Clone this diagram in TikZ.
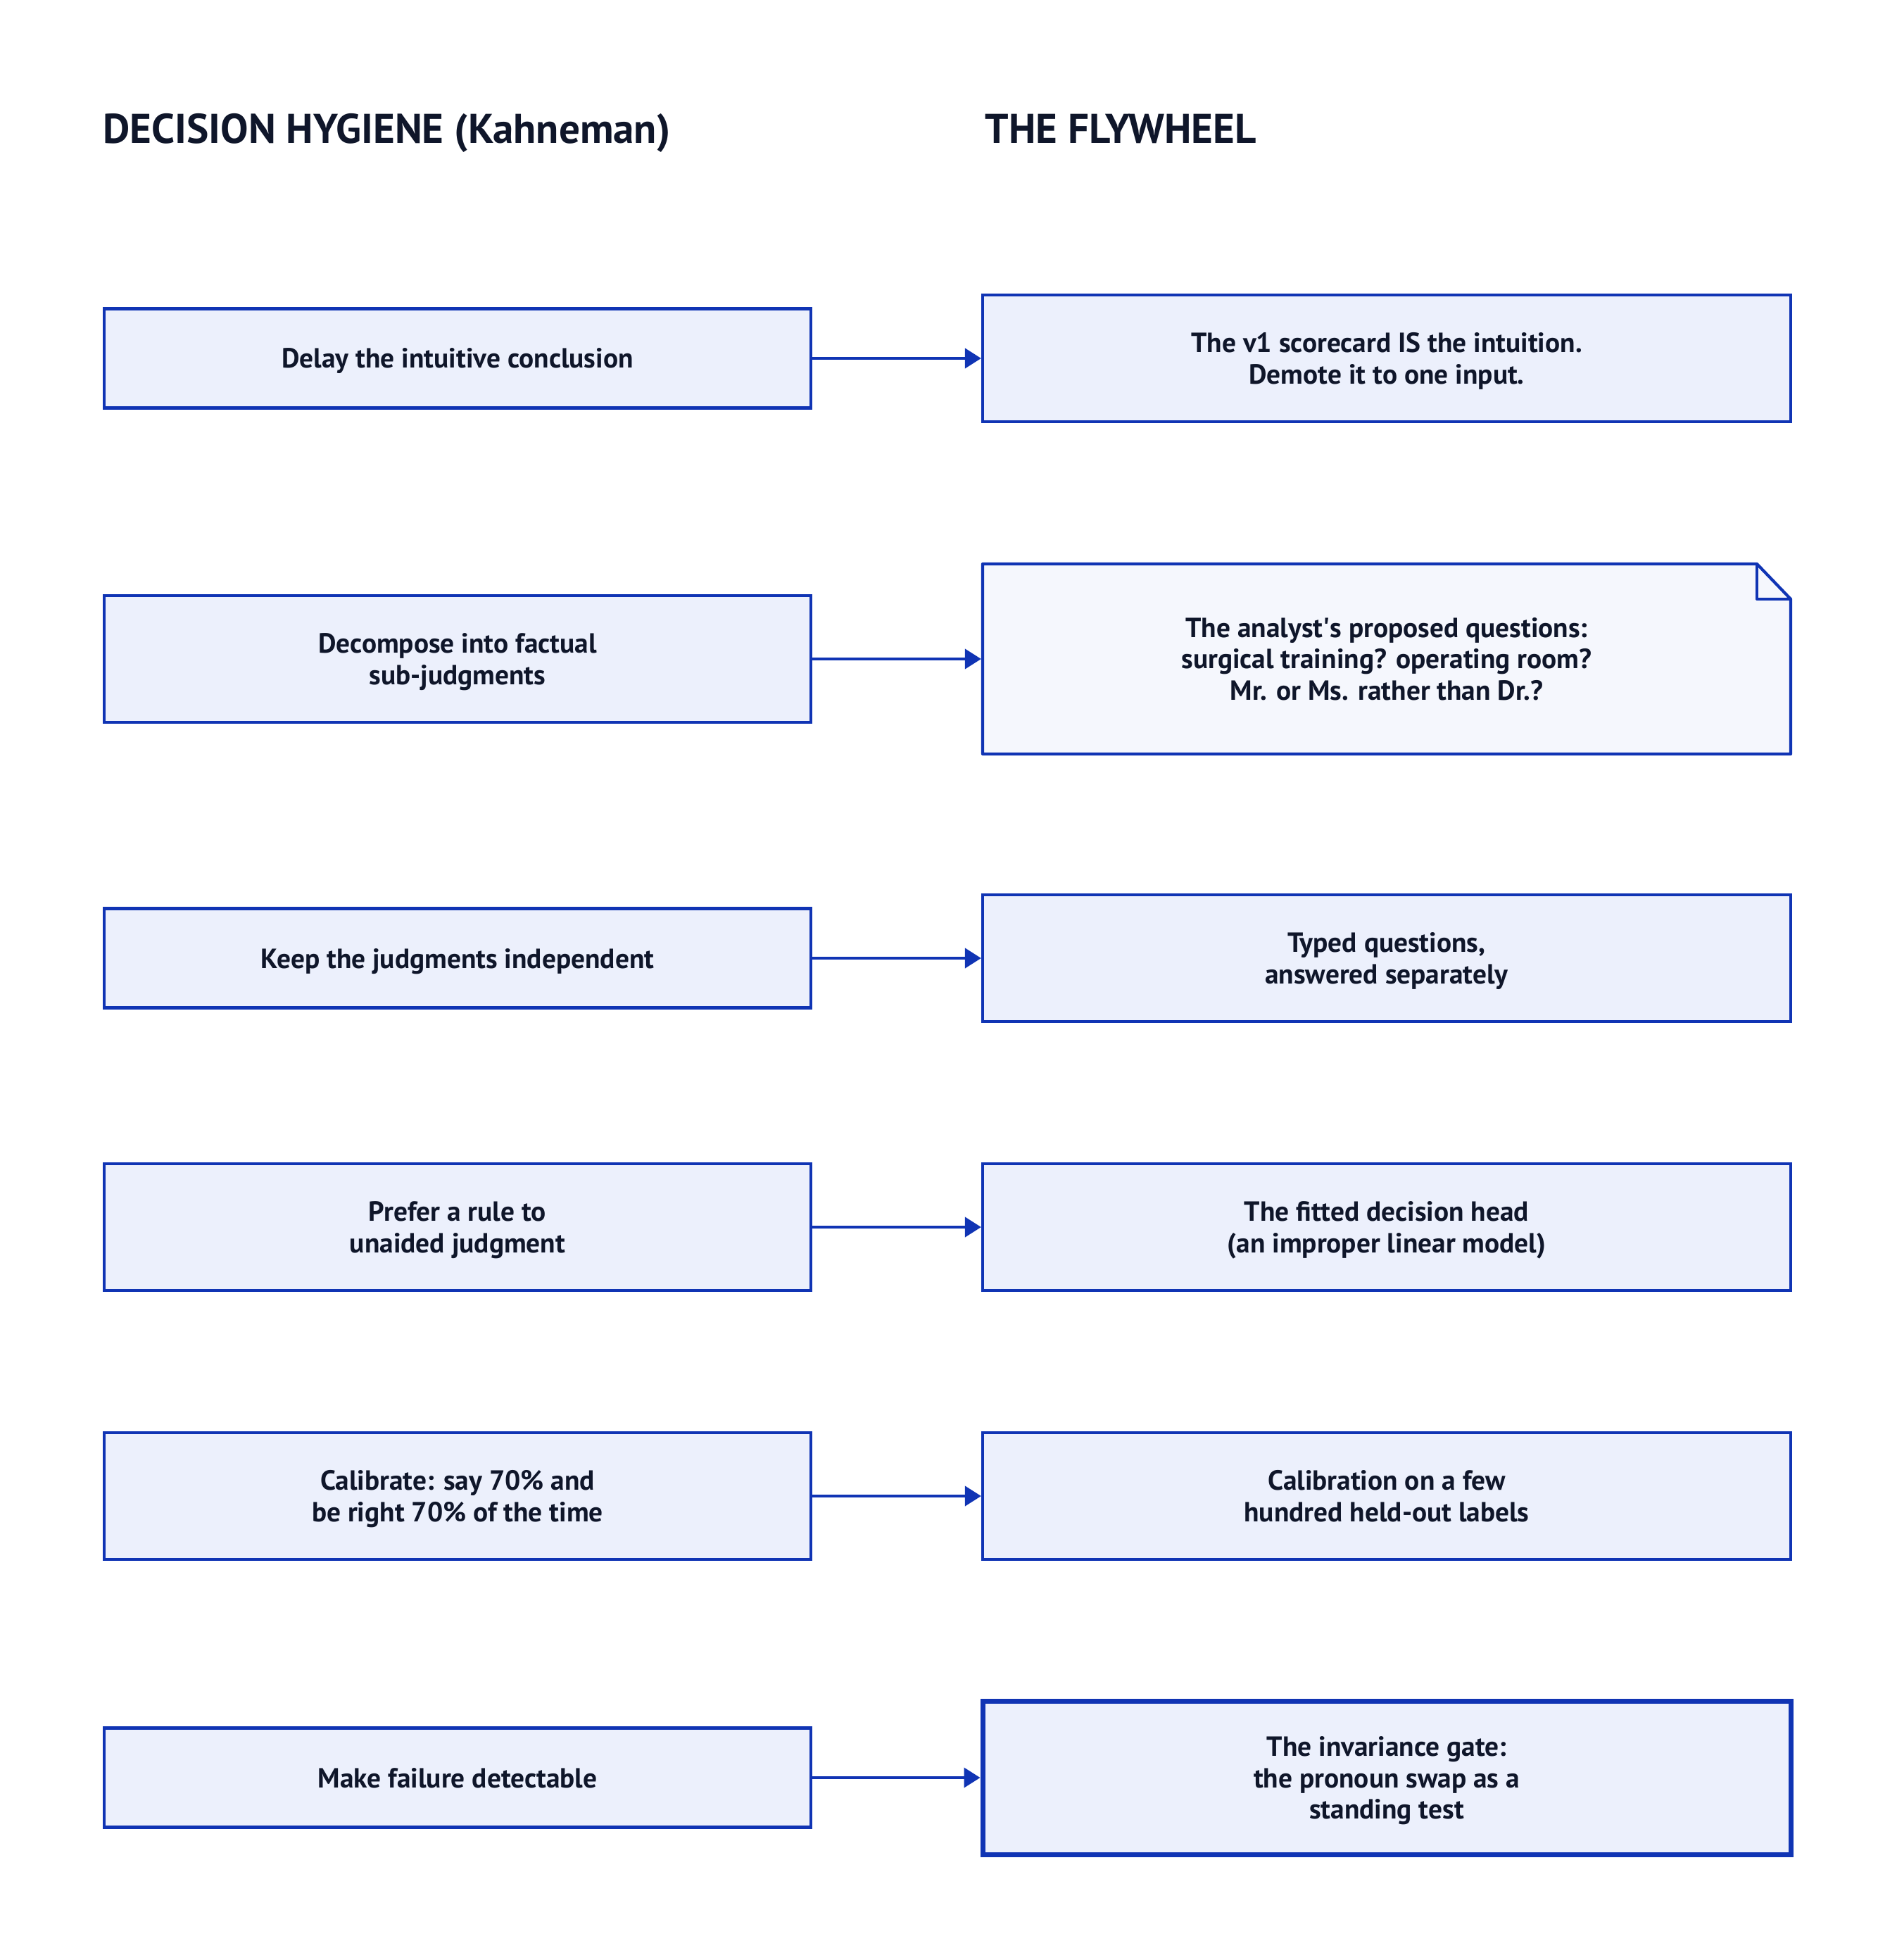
\documentclass[tikz,border=0pt]{standalone}
\usepackage{fontspec}
\setmainfont{PT Sans}
\usepackage{tikz}
\usetikzlibrary{positioning,calc,arrows.meta}
\definecolor{edge}{RGB}{16,52,180}
\definecolor{boxfill}{RGB}{236,240,252}
\definecolor{notefill}{RGB}{245,247,253}
\definecolor{ink}{RGB}{15,22,42}

\begin{document}
\begin{tikzpicture}[
  hyg/.style={draw=edge, line width=1.2pt, fill=boxfill, minimum width=10.04cm, minimum height=1.80cm, align=center, text depth=0pt, text=ink, font=\bfseries\fontsize{11.2}{12.7}\selectfont},
  fly/.style={hyg, minimum width=11.48cm},
  link/.style={draw=edge, line width=1.15pt, -{Triangle[length=0.23cm,width=0.28cm]}},
  head/.style={anchor=base west, inner sep=0pt, text=ink, font=\bfseries\fontsize{16.8}{19}\selectfont}
]
  \useasboundingbox (0,0) rectangle (26.94,-27.84);
  \fill[white] (0,0) rectangle (26.94,-27.84);

  \node[head] (tl) at (1.46,-2.04) {DECISION HYGIENE (Kahneman)};
  \node[head] (tr) at (13.99,-2.04) {THE FLYWHEEL};

  \node[hyg, minimum height=1.41cm] (h1) at (6.50,-5.09) {Delay the intuitive conclusion};
  \node[fly] (f1) at (19.70,-5.09) {The v1 scorecard IS the intuition.\\Demote it to one input.};

  \node[hyg] (h2) at (6.50,-9.36) {Decompose into factual\\sub-judgments};
  % note with folded corner
  \coordinate (d) at (19.70,-9.36);
  \filldraw[draw=edge, fill=notefill, line width=1.2pt, line join=round] ($(d)+(-5.74,1.35)$) -- ($(d)+(5.26,1.35)$) -- ($(d)+(5.74,0.85)$) -- ($(d)+(5.74,-1.35)$) -- ($(d)+(-5.74,-1.35)$) -- cycle;
  \draw[edge, line width=1.2pt, line join=round] ($(d)+(5.26,1.35)$) |- ($(d)+(5.74,0.85)$);
  \node[fly, draw=none, fill=none, minimum height=2.70cm] (f2) at (d) {The analyst\textquotesingle s proposed questions:\\surgical training? operating room?\\Mr. or Ms. rather than Dr.?};

  \node[hyg, minimum height=1.41cm] (h3) at (6.50,-13.61) {Keep the judgments independent};
  \node[fly] (f3) at (19.70,-13.61) {Typed questions,\\answered separately};

  \node[hyg] (h4) at (6.50,-17.43) {Prefer a rule to\\unaided judgment};
  \node[fly] (f4) at (19.70,-17.43) {The fitted decision head\\(an improper linear model)};

  \node[hyg] (h5) at (6.50,-21.25) {Calibrate: say 70\% and\\be right 70\% of the time};
  \node[fly] (f5) at (19.70,-21.25) {Calibration on a few\\hundred held-out labels};

  \node[hyg, minimum height=1.41cm] (h6) at (6.50,-25.25) {Make failure detectable};
  \node[fly, line width=2pt, minimum height=2.18cm] (f6) at (19.70,-25.25) {The invariance gate:\\the pronoun swap as a\\standing test};

  \draw[link] (h1) -- (f1);
  \draw[link] (h2) -- (f2);
  \draw[link] (h3) -- (f3);
  \draw[link] (h4) -- (f4);
  \draw[link] (h5) -- (f5);
  \draw[link] (h6) -- (f6);
\end{tikzpicture}
\end{document}
